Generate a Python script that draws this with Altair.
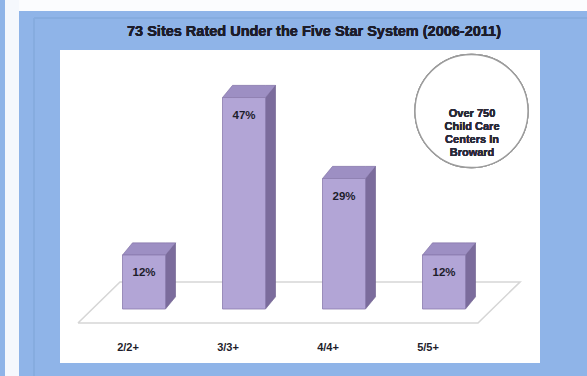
import altair as alt
import pandas as pd

# ---- data ----
categories = ["2/2+", "3/3+", "4/4+", "5/5+"]
values = [12, 47, 29, 12]
pct_labels = ["12%", "47%", "29%", "12%"]
title_text = "73 Sites Rated Under the Five Star System (2006-2011)"
note_lines = ["Over 750", "Child Care", "Centers  In", "Broward"]

FONT = "Liberation Sans Narrow, Arial Narrow, Liberation Sans, sans-serif"
TXT = "#1d1d2b"

# ---- 3D styling constants (category / percent units) ----
HALF = 0.215   # half width of the front face
DX = 0.10      # depth offset along x
DY = 2.7       # depth offset along y

bars = pd.DataFrame({
    "cat": categories,
    "idx": list(range(len(categories))),
    "value": values,
    "label": pct_labels,
})

side_rows, top_rows = [], []
for i, (c, v) in enumerate(zip(categories, values)):
    xl, xr = i - HALF, i + HALF
    side_rows += [dict(cat=c, x=xr, y=0, y2=v),
                  dict(cat=c, x=xr + DX, y=DY, y2=v + DY)]
    top_rows += [dict(cat=c, x=xl, y=v, y2=v),
                 dict(cat=c, x=xl + DX, y=v, y2=v + DY),
                 dict(cat=c, x=xr, y=v, y2=v + DY),
                 dict(cat=c, x=xr + DX, y=v + DY, y2=v + DY)]
side = pd.DataFrame(side_rows)
top = pd.DataFrame(top_rows)

# floor parallelogram (decoration)
F_FRONT, F_BACK = -3.1, 6.0
floor = pd.DataFrame({
    "x": [-0.66, 3.34, 3.76, -0.24, -0.66],
    "y": [F_FRONT, F_FRONT, F_BACK, F_BACK, F_FRONT],
    "o": [0, 1, 2, 3, 4],
})

xs = alt.Scale(domain=[-0.84, 3.96], nice=False, zero=False)
ys = alt.Scale(domain=[-12, 57.56], nice=False, zero=False)
X = lambda f: alt.X(f, scale=xs, axis=None)
Y = lambda f: alt.Y(f, scale=ys, axis=None)

# frame decorations (outside the plot area)
strip_left = alt.Chart(bars).mark_rect(color="#f5f8fd").encode(
    x=alt.value(-55), x2=alt.value(-41), y=alt.value(-50), y2=alt.value(326))
strip_top = alt.Chart(bars).mark_rect(color="#fbfcfe").encode(
    x=alt.value(-41), x2=alt.value(527), y=alt.value(-50), y2=alt.value(-39))
inner_v = alt.Chart(bars).mark_rule(color="#86acdf", strokeWidth=1.5).encode(
    x=alt.value(-26), y=alt.value(-32), y2=alt.value(326))
inner_h = alt.Chart(bars).mark_rule(color="#86acdf", strokeWidth=1.5).encode(
    x=alt.value(-26), x2=alt.value(527), y=alt.value(-32))

title = alt.Chart(bars).mark_text(
    font=FONT, fontSize=14.5, fontWeight="bold", color=TXT, baseline="middle", align="center"
).encode(x=alt.value(254), y=alt.value(-18), text=alt.value(title_text))

floor_line = alt.Chart(floor).mark_line(color="#d6d6d6", strokeWidth=1.6).encode(
    x=X("x:Q"), y=Y("y:Q"), order="o:Q")

side_face = alt.Chart(side).mark_area(color="#7b6c9c", stroke="#6a5b8a", strokeWidth=0.6).encode(
    x=X("x:Q"), y=Y("y:Q"), y2="y2:Q", detail="cat:N")

top_face = alt.Chart(top).mark_area(color="#9d8fc3", stroke="#7d6ea2", strokeWidth=0.6).encode(
    x=X("x:Q"), y=Y("y:Q"), y2="y2:Q", detail="cat:N")

front = alt.Chart(bars).transform_calculate(
    xl=f"datum.idx - {HALF}", xr=f"datum.idx + {HALF}", zero="0"
).mark_bar(color="#b2a5d6", stroke="#8a7bad", strokeWidth=0.8).encode(
    x=X("xl:Q"), x2="xr:Q", y=Y("value:Q"), y2="zero:Q")

pct = alt.Chart(bars).mark_text(
    font=FONT, fontSize=11.5, fontWeight="bold", color=TXT, dy=18, baseline="middle"
).encode(x=X("idx:Q"), y=Y("value:Q"), text="label:N")

cat_lbl = alt.Chart(bars).transform_calculate(
    lx="datum.idx - 0.16", ly="-8.67"
).mark_text(
    font=FONT, fontSize=11, fontWeight="bold", color=TXT, baseline="middle"
).encode(x=X("lx:Q"), y=Y("ly:Q"), text="cat:N")

circle = alt.Chart(bars).mark_point(
    shape="circle", size=12770, filled=True, fill="white", stroke="#9c9c9c",
    strokeWidth=1.3, opacity=1
).encode(x=alt.X(datum=3.275, scale=xs, axis=None), y=alt.Y(datum=44, scale=ys, axis=None))

note = alt.Chart(bars).mark_text(
    font=FONT, fontSize=11, fontWeight="bold", color="#2a2a38",
    lineHeight=13.2, baseline="middle", align="center"
).encode(x=alt.X(datum=3.28, scale=xs, axis=None), y=alt.Y(datum=43.4, scale=ys, axis=None),
         text=alt.value(note_lines))

chart = alt.layer(
    strip_left, strip_top, inner_v, inner_h, title, floor_line, side_face, top_face,
    front, pct, cat_lbl, circle, note
).properties(
    width=480, height=313,
    padding={"left": 60, "top": 50, "right": 47, "bottom": 13},
    autosize=alt.AutoSizeParams(type="none"),
    background="#8fb4e8",
).configure_view(fill="white", stroke=None)

chart.save("out.html", embed_options={"renderer": "svg", "actions": False})
